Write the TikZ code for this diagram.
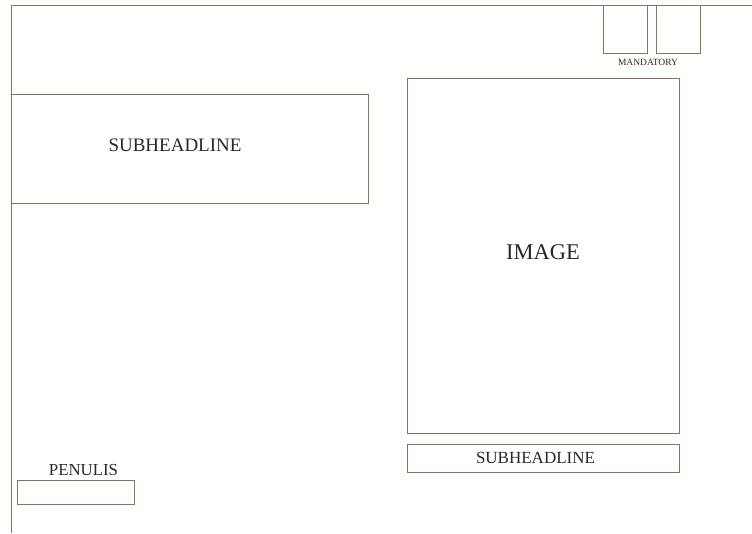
\documentclass[tikz,border=0pt]{standalone}
\usepackage{fontspec}
\setmainfont{Liberation Serif}
\definecolor{frame}{RGB}{139,115,88}
\definecolor{txt}{RGB}{40,40,40}
\begin{document}
\begin{tikzpicture}[x=1pt,y=1pt,
  box/.style={draw=frame,line width=0.9pt,inner sep=0pt},
  lbl/.style={text=txt,inner sep=0pt,anchor=center}]
\useasboundingbox (0,0) rectangle (752,533);
% frame lines
\coordinate (tl) at (11,528);
\coordinate (tr) at (752,528);
\coordinate (bl) at (11,0);
\draw[frame,line width=0.9pt] (tr) -- (tl) -- (bl);
% boxes
\node[box,minimum width=357pt,minimum height=109pt] (sub1) at (189.5,384.5) {};
\node[box,minimum width=272pt,minimum height=355pt] (img) at (543,277.5) {};
\node[box,minimum width=272pt,minimum height=28pt] (sub2) at (543,75) {};
\node[box,minimum width=117pt,minimum height=24pt] (pen) at (75.5,41) {};
\node[box,minimum width=44pt,minimum height=48pt] (m1) at (625,504) {};
\node[box,minimum width=44pt,minimum height=48pt] (m2) at (678,504) {};
% labels
\node[lbl,font=\fontsize{19}{19}\selectfont] (t1) at (175,388) {SUBHEADLINE};
\node[lbl,font=\fontsize{22.5}{22.5}\selectfont] (t2) at (543,281) {IMAGE};
\node[lbl,font=\fontsize{17}{17}\selectfont] (t3) at (535.5,75) {SUBHEADLINE};
\node[lbl,font=\fontsize{16.8}{16.8}\selectfont] (t4) at (83.5,63) {PENULIS};
\node[lbl,font=\fontsize{9.5}{9.5}\selectfont] (t5) at (648,471) {MANDATORY};
\end{tikzpicture}
\end{document}
